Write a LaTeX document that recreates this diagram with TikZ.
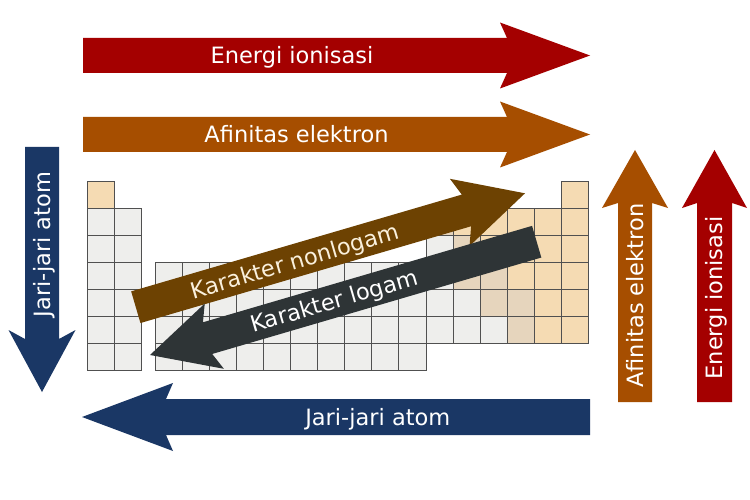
\documentclass[tikz,border=0pt]{standalone}
\usepackage{fontspec}
\setmainfont{DejaVu Sans}
\usetikzlibrary{calc}
\definecolor{ionred}{HTML}{A40000}
\definecolor{affor}{HTML}{A64E00}
\definecolor{radblue}{HTML}{1A3765}
\definecolor{nmbrown}{HTML}{6D4202}
\definecolor{metdark}{HTML}{2E3436}
\definecolor{cgray}{HTML}{EEEEEC}
\definecolor{corange}{HTML}{F5DBB3}
\definecolor{ctan}{HTML}{E6D5BD}
\definecolor{cline}{HTML}{505050}
\definecolor{cream}{HTML}{FAF0DC}
% #1 colour, #2 tail, #3 tip, #4 shaft half-width, #5 head half-width, #6 head length, #7 junction distance
\newcommand{\bigarrow}[7]{%
  \coordinate (aB) at ($(#3)!#6!(#2)$);
  \coordinate (aJ) at ($(#3)!#7!(#2)$);
  \fill[#1] ($(#2)!#4!90:(#3)$) -- ($(aJ)!#4!90:(#3)$) -- ($(aB)!#5!90:(#3)$) -- (#3)
    -- ($(aB)!#5!-90:(#3)$) -- ($(aJ)!#4!-90:(#3)$) -- ($(#2)!#4!-90:(#3)$) -- cycle;
}
\newcommand{\pcell}[3]{%
  \pgfmathsetmacro\cellx{(#1<3) ? 87.3+(#1-1)*27.1 : 87.3+(#1-0.5)*27.1}%
  \pgfmathsetmacro\celly{181.7+(#2-1)*26.9}%
  \filldraw[celledge, fill=#3] (\cellx,\celly) rectangle ++(27.1,26.9);
}
\tikzset{
  celledge/.style={draw=cline, line width=1pt},
  lbl/.style={text=white, font=\fontsize{22.5}{27}\selectfont, inner sep=0pt, text height=16.4pt, text depth=0pt}
}
\begin{document}
\begin{tikzpicture}[x=1pt, y=-1pt]
\fill[white] (0,0) rectangle (750,500);
\useasboundingbox (0,0) rectangle (750,500);
% periodic table cells
\foreach \c in {1,2} \foreach \r in {2,...,7} {\pcell{\c}{\r}{cgray}}
\foreach \c in {3,...,12} \foreach \r in {4,...,7} {\pcell{\c}{\r}{cgray}}
\foreach \c in {13,...,18} \foreach \r in {2,...,6} {\pcell{\c}{\r}{cgray}}
\foreach \c/\r/\f in {1/1/corange, 18/1/corange,
  13/2/ctan, 14/2/corange, 15/2/corange, 16/2/corange, 17/2/corange, 18/2/corange,
  14/3/ctan, 15/3/corange, 16/3/corange, 17/3/corange, 18/3/corange,
  14/4/ctan, 15/4/ctan, 16/4/corange, 17/4/corange, 18/4/corange,
  15/5/ctan, 16/5/ctan, 17/5/corange, 18/5/corange,
  16/6/ctan, 17/6/corange, 18/6/corange} {\pcell{\c}{\r}{\f}}
% diagonal arrows
\bigarrow{nmbrown}{135.8,307.2}{525,193.3}{16.5pt}{35pt}{68pt}{61pt}
\bigarrow{metdark}{536.7,241.7}{150,355}{16.5pt}{34pt}{67pt}{60pt}
\node[lbl, text=cream, rotate=16.3] (nonlogam) at (295,261) {Karakter nonlogam};
\node[lbl, rotate=16.3] (logam) at (334,300.5) {Karakter logam};
% horizontal arrows
\bigarrow{ionred}{83,55.5}{590,55.5}{17.5pt}{33pt}{90pt}{83pt}
\node[lbl] (eih) at (292,55.5) {Energi ionisasi};
\bigarrow{affor}{83,134.5}{590,134.5}{17.5pt}{33pt}{90pt}{83pt}
\node[lbl] (aeh) at (296.5,134.5) {Afinitas elektron};
\bigarrow{radblue}{590,417}{82,417}{18pt}{34pt}{91pt}{84pt}
\node[lbl] (jah) at (377.8,417) {Jari-jari atom};
% vertical arrows
\bigarrow{radblue}{42,147}{42,392}{17pt}{33.5pt}{62pt}{53pt}
\node[lbl, rotate=90] (jav) at (42,244.5) {Jari-jari atom};
\bigarrow{affor}{635,402}{635,150}{17pt}{33pt}{58pt}{53pt}
\node[lbl, rotate=90] (aev) at (635,295.6) {Afinitas elektron};
\bigarrow{ionred}{714.5,402}{714.5,150}{17.5pt}{32.5pt}{58pt}{53pt}
\node[lbl, rotate=90] (eiv) at (714.5,298) {Energi ionisasi};
\end{tikzpicture}
\end{document}
